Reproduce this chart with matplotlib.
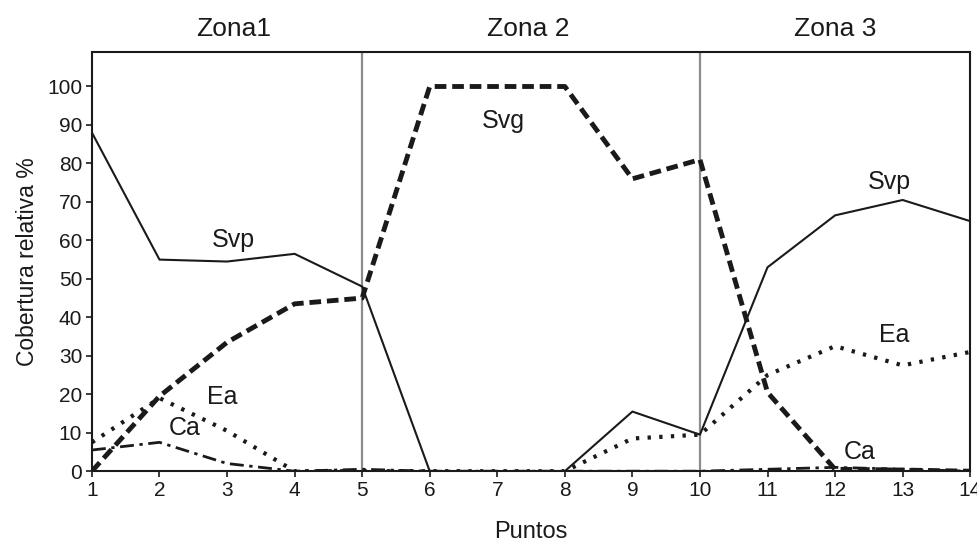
import numpy as np
import matplotlib.pyplot as plt

plt.rcParams['font.family'] = ['Liberation Sans', 'DejaVu Sans']

# Puntos de muestreo
puntos = np.arange(1, 15)

# Cobertura relativa (%) por grupo
svp = [88, 55, 54.5, 56.5, 48, 0, 0, 0, 15.5, 9.5, 53, 66.5, 70.5, 65]
svg = [0, 19.5, 33.5, 43.5, 45, 100, 100, 100, 76, 81, 20.5, 0.5, 0.3, 0]
ea = [7.5, 19, 10.5, 0, 0, 0, 0, 0, 8.5, 9.5, 25, 32.5, 27.5, 31]
ca = [5.5, 7.5, 2, 0, 0.5, 0, 0, 0, 0, 0, 0.5, 1, 0.5, 0]

zonas = ['Zona1', 'Zona 2', 'Zona 3']
zona_x = [3.1, 7.46, 12.0]
limites = [5, 10]

fig = plt.figure(figsize=(9.78, 5.46), dpi=100)
ax = fig.add_axes([0.094, 0.137, 0.898, 0.768])

for x in limites:
    ax.axvline(x, color='#8c8c8c', lw=1.6, zorder=1)

ax.plot(puntos, svp, color='#1a1a1a', lw=1.5, zorder=3)
ax.plot(puntos, svg, color='#1a1a1a', lw=3.5, ls=(0, (2.4, 1.2)), zorder=4)
ax.plot(puntos, ea, color='#1a1a1a', lw=3, ls=(0, (0.8, 2.0)), zorder=3)
ax.plot(puntos, ca, color='#1a1a1a', lw=2, ls=(0, (5, 2, 1.2, 2)), zorder=3)

# etiquetas de las curvas
etiquetas = [('Svp', 3.09, 60), ('Svg', 7.09, 91), ('Svp', 12.8, 75.3),
             ('Ea', 2.93, 19.2), ('Ca', 2.38, 11.2), ('Ea', 12.87, 35.3),
             ('Ca', 12.36, 4.9)]
for txt, x, y in etiquetas:
    ax.text(x, y, txt, fontsize=18, ha='center', va='center', color='#1a1a1a')

for z, x in zip(zonas, zona_x):
    ax.text(x, 1.055, z, fontsize=19, ha='center', va='center',
            transform=ax.get_xaxis_transform(), color='#1a1a1a')

ax.set_xlim(1, 14)
ax.set_ylim(0, 109)
ax.set_xticks(puntos)
ax.set_yticks(np.arange(0, 101, 10))
ax.tick_params(labelsize=15, length=4, width=1.2, colors='#1a1a1a', pad=3)
for s in ax.spines.values():
    s.set_linewidth(1.5)
    s.set_color('#1a1a1a')

ax.set_xlabel('Puntos', fontsize=17, labelpad=15, color='#1a1a1a')
ax.set_ylabel('Cobertura relativa %', fontsize=16.5, labelpad=6, color='#1a1a1a')

plt.savefig('out.png', dpi=100)
